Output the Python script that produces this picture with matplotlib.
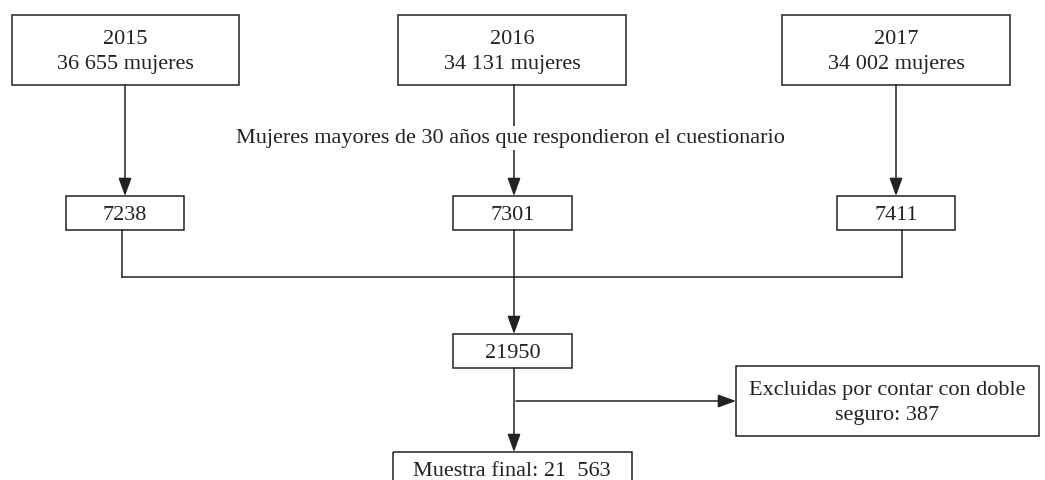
import matplotlib.pyplot as plt
from matplotlib.patches import Rectangle

# flowchart values
years = ["2015", "2016", "2017"]
totals = ["36 655", "34 131", "34 002"]
respondents = ["7238", "7301", "7411"]
combined = "21950"
excluded = "387"
final_n = "21  563"
filter_label = "Mujeres mayores de 30 años que respondieron el cuestionario"

plt.rcParams['font.family'] = ['Liberation Serif', 'DejaVu Serif']
FS = 16
LC = "#222222"

fig = plt.figure(figsize=(10.45, 4.80), dpi=100)
ax = fig.add_axes([0, 0, 1, 1])
ax.set_xlim(0, 1045)
ax.set_ylim(480, 0)
ax.axis('off')


def box(x0, y0, x1, y1, text):
    ax.add_patch(Rectangle((x0, y0), x1 - x0, y1 - y0, fill=False,
                           edgecolor=LC, lw=1.1, zorder=2))
    ax.text((x0 + x1) / 2, (y0 + y1) / 2 + 2, text, ha='center', va='center',
            fontsize=FS, color="#222222", linespacing=1.45, zorder=3)


def arrow(x0, y0, x1, y1):
    ax.annotate("", xy=(x1, y1), xytext=(x0, y0),
                arrowprops=dict(arrowstyle="-|>,head_length=1.1,head_width=0.4",
                                color=LC, lw=1.1, shrinkA=0, shrinkB=0,
                                mutation_scale=10), zorder=1)


top_boxes = [(12, 239), (398, 626), (782, 1010)]
mid_boxes = [(66, 184), (453, 572), (837, 955)]
arrow_x = [125, 514, 896]
drop_x = [122, 514, 902]

for i in range(3):
    box(top_boxes[i][0], 15, top_boxes[i][1], 85,
        f"{years[i]}\n{totals[i]} mujeres")
    arrow(arrow_x[i], 85, arrow_x[i], 196)
    box(mid_boxes[i][0], 196, mid_boxes[i][1], 230, respondents[i])
    ax.plot([drop_x[i], drop_x[i]], [230, 277], color=LC, lw=1.1)

ax.text(510, 138, filter_label, ha='center', va='center', fontsize=FS,
        color="#222222", zorder=4,
        bbox=dict(facecolor='white', edgecolor='none', pad=2))

ax.plot([drop_x[0], drop_x[2]], [277, 277], color=LC, lw=1.1)
arrow(514, 277, 514, 334)
box(453, 334, 572, 368, combined)
arrow(514, 368, 514, 452)
arrow(516, 401, 736, 401)
box(736, 366, 1039, 436, f"Excluidas por contar con doble\nseguro: {excluded}")
box(393, 452, 632, 492, "")
ax.text(512, 471, f"Muestra final: {final_n}", ha='center', va='center',
        fontsize=FS, color="#222222")

fig.savefig("out.png", dpi=100)
